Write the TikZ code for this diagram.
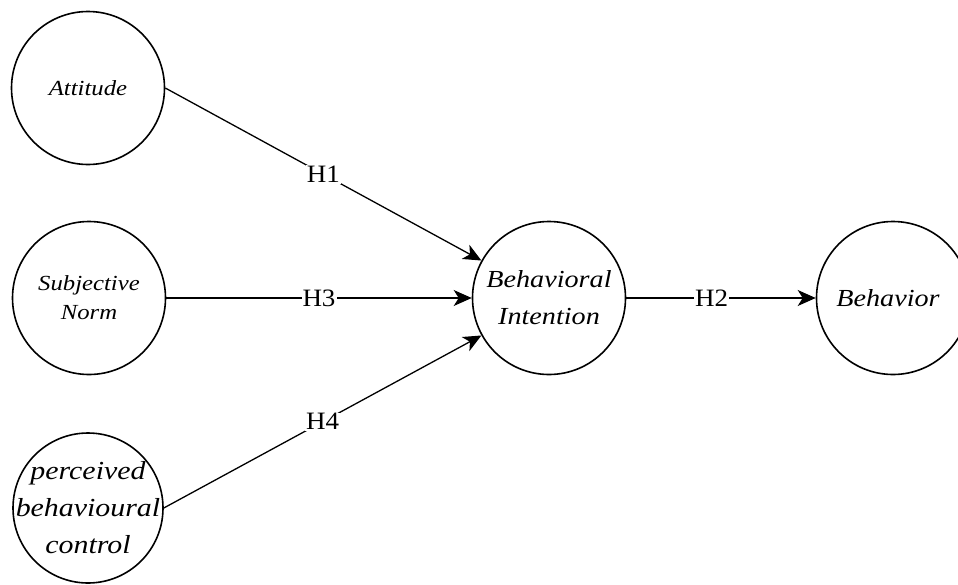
\documentclass[tikz,border=0pt]{standalone}
\usepackage{fontspec}
\setmainfont{Liberation Serif}
\newfontfamily\constructfont[FakeStretch=1.15]{Liberation Serif Italic}
\newfontfamily\labelfont[FakeStretch=1.08]{Liberation Serif}
\usetikzlibrary{arrows.meta}
\begin{document}
\begin{tikzpicture}[x=1pt,y=-1pt,
  construct/.style={circle,draw,line width=1.6pt,minimum size=153pt,inner sep=-30pt,align=center},
  path/.style={line width=1.3pt,-{Stealth[length=18pt,width=16pt,inset=5pt]}},
  hlabel/.style={fill=white,inner sep=1pt,font=\labelfont\fontsize{25}{27}\selectfont}]
\useasboundingbox (0,0) rectangle (958,584);
\begin{scope}
\clip (0,0) rectangle (958,584);
\node[construct,font=\constructfont\fontsize{21.5}{24}\selectfont] (att) at (88,88) {Attitude};
\node[construct,font=\constructfont\fontsize{21.5}{29}\selectfont] (sn) at (89,298) {Subjective\\Norm};
\node[construct,font=\constructfont\fontsize{26}{37}\selectfont,minimum size=150pt] (pbc) at (88,508) {perceived\\behavioural\\control};
\node[construct,font=\constructfont\fontsize{24.5}{37}\selectfont] (bi) at (549,298) {Behavioral\\Intention};
\node[construct,font=\constructfont\fontsize{24.5}{28}\selectfont] (beh) at (893,298) {\hspace*{-10pt}Behavior};
\end{scope}
\draw[path] (att.east) -- node[hlabel]{H1} (bi.151);
\draw[path] (sn.east) -- node[hlabel]{H3} (bi.west);
\draw[path] (pbc.east) -- node[hlabel]{H4} (bi.209);
\draw[path] (bi.east) -- node[hlabel,pos=0.45]{H2} (beh.west);
\end{tikzpicture}
\end{document}
